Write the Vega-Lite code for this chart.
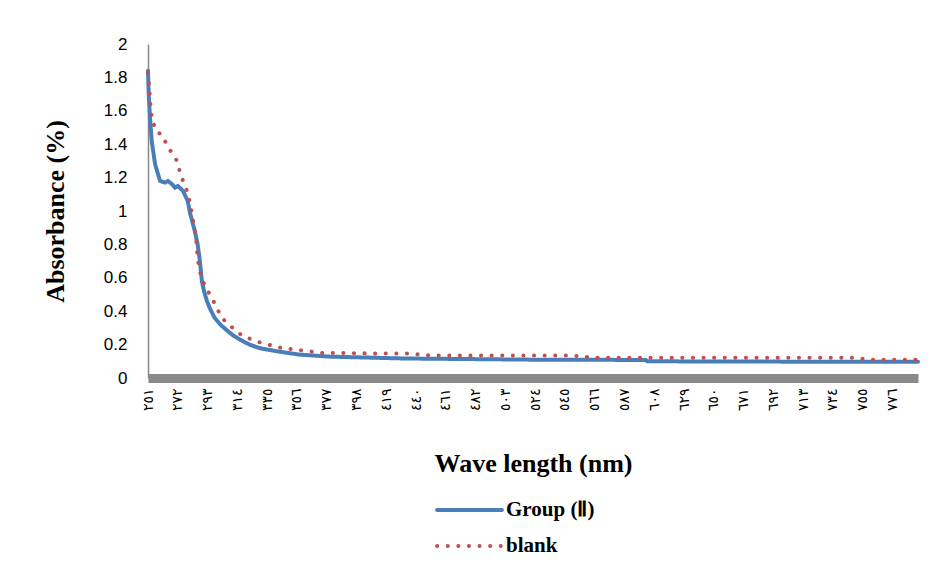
{
  "$schema": "https://vega.github.io/schema/vega-lite/v6.json",
  "width": 770,
  "height": 334,
  "autosize": {"type": "none"},
  "padding": {"left": 148, "top": 44, "right": 27, "bottom": 190},
  "background": "white",
  "config": {"view": {"stroke": null}},
  "data": {"values": [
    {"nm": 251, "a": 1.84, "s": "Group (Ⅱ)"},
    {"nm": 251.5, "a": 1.70, "s": "Group (Ⅱ)"},
    {"nm": 252.4, "a": 1.56, "s": "Group (Ⅱ)"},
    {"nm": 253.6, "a": 1.42, "s": "Group (Ⅱ)"},
    {"nm": 256, "a": 1.28, "s": "Group (Ⅱ)"},
    {"nm": 259.5, "a": 1.18, "s": "Group (Ⅱ)"},
    {"nm": 263, "a": 1.17, "s": "Group (Ⅱ)"},
    {"nm": 265, "a": 1.18, "s": "Group (Ⅱ)"},
    {"nm": 268, "a": 1.16, "s": "Group (Ⅱ)"},
    {"nm": 270, "a": 1.14, "s": "Group (Ⅱ)"},
    {"nm": 272, "a": 1.15, "s": "Group (Ⅱ)"},
    {"nm": 275.7, "a": 1.12, "s": "Group (Ⅱ)"},
    {"nm": 279, "a": 1.06, "s": "Group (Ⅱ)"},
    {"nm": 280.6, "a": 0.99, "s": "Group (Ⅱ)"},
    {"nm": 284, "a": 0.88, "s": "Group (Ⅱ)"},
    {"nm": 286, "a": 0.80, "s": "Group (Ⅱ)"},
    {"nm": 287.6, "a": 0.70, "s": "Group (Ⅱ)"},
    {"nm": 289, "a": 0.58, "s": "Group (Ⅱ)"},
    {"nm": 290.5, "a": 0.52, "s": "Group (Ⅱ)"},
    {"nm": 292.6, "a": 0.46, "s": "Group (Ⅱ)"},
    {"nm": 295, "a": 0.41, "s": "Group (Ⅱ)"},
    {"nm": 298, "a": 0.36, "s": "Group (Ⅱ)"},
    {"nm": 302, "a": 0.32, "s": "Group (Ⅱ)"},
    {"nm": 306.7, "a": 0.285, "s": "Group (Ⅱ)"},
    {"nm": 311, "a": 0.255, "s": "Group (Ⅱ)"},
    {"nm": 315.8, "a": 0.23, "s": "Group (Ⅱ)"},
    {"nm": 323, "a": 0.198, "s": "Group (Ⅱ)"},
    {"nm": 330, "a": 0.178, "s": "Group (Ⅱ)"},
    {"nm": 344, "a": 0.157, "s": "Group (Ⅱ)"},
    {"nm": 358, "a": 0.14, "s": "Group (Ⅱ)"},
    {"nm": 379, "a": 0.128, "s": "Group (Ⅱ)"},
    {"nm": 431, "a": 0.117, "s": "Group (Ⅱ)"},
    {"nm": 520, "a": 0.11, "s": "Group (Ⅱ)"},
    {"nm": 602, "a": 0.108, "s": "Group (Ⅱ)"},
    {"nm": 603, "a": 0.10, "s": "Group (Ⅱ)"},
    {"nm": 700, "a": 0.098, "s": "Group (Ⅱ)"},
    {"nm": 794, "a": 0.097, "s": "Group (Ⅱ)"},
    {"nm": 251, "a": 1.83, "s": "blank"},
    {"nm": 251.7, "a": 1.76, "s": "blank"},
    {"nm": 252.4, "a": 1.68, "s": "blank"},
    {"nm": 253, "a": 1.61, "s": "blank"},
    {"nm": 253.8, "a": 1.55, "s": "blank"},
    {"nm": 256.6, "a": 1.48, "s": "blank"},
    {"nm": 261.6, "a": 1.45, "s": "blank"},
    {"nm": 264.4, "a": 1.39, "s": "blank"},
    {"nm": 268.6, "a": 1.34, "s": "blank"},
    {"nm": 271.4, "a": 1.30, "s": "blank"},
    {"nm": 273.6, "a": 1.23, "s": "blank"},
    {"nm": 275.7, "a": 1.18, "s": "blank"},
    {"nm": 278.5, "a": 1.12, "s": "blank"},
    {"nm": 280.6, "a": 1.05, "s": "blank"},
    {"nm": 283.4, "a": 0.91, "s": "blank"},
    {"nm": 284.8, "a": 0.85, "s": "blank"},
    {"nm": 285.8, "a": 0.74, "s": "blank"},
    {"nm": 287, "a": 0.66, "s": "blank"},
    {"nm": 289, "a": 0.59, "s": "blank"},
    {"nm": 292.6, "a": 0.53, "s": "blank"},
    {"nm": 296, "a": 0.48, "s": "blank"},
    {"nm": 303, "a": 0.36, "s": "blank"},
    {"nm": 312, "a": 0.29, "s": "blank"},
    {"nm": 318, "a": 0.25, "s": "blank"},
    {"nm": 331, "a": 0.21, "s": "blank"},
    {"nm": 345, "a": 0.18, "s": "blank"},
    {"nm": 359.5, "a": 0.165, "s": "blank"},
    {"nm": 374, "a": 0.15, "s": "blank"},
    {"nm": 390, "a": 0.15, "s": "blank"},
    {"nm": 412, "a": 0.146, "s": "blank"},
    {"nm": 435.6, "a": 0.146, "s": "blank"},
    {"nm": 450, "a": 0.135, "s": "blank"},
    {"nm": 520, "a": 0.135, "s": "blank"},
    {"nm": 550, "a": 0.135, "s": "blank"},
    {"nm": 564, "a": 0.122, "s": "blank"},
    {"nm": 748, "a": 0.122, "s": "blank"},
    {"nm": 760, "a": 0.11, "s": "blank"},
    {"nm": 794, "a": 0.11, "s": "blank"}
  ]},
  "mark": {"type": "line", "strokeWidth": 4, "strokeCap": "round", "clip": false},
  "encoding": {
    "x": {
      "field": "nm", "type": "quantitative",
      "scale": {"domain": [251, 794], "nice": false, "zero": false},
      "axis": {
        "values": [251,272,293,314,335,356,377,398,419,440,461,482,503,524,545,566,587,608,629,650,671,692,713,734,755,776],
        "format": "d",
        "labelExpr": "replace(replace(replace(replace(replace(replace(replace(replace(replace(replace(datum.label,/0/g,'٠'),/1/g,'١'),/2/g,'٢'),/3/g,'٣'),/4/g,'٤'),/5/g,'٥'),/6/g,'٦'),/7/g,'٧'),/8/g,'٨'),/9/g,'٩')",
        "labelAngle": 270,
        "labelAlign": "right",
        "labelBaseline": "middle",
        "labelFont": "DejaVu Sans",
        "labelFontSize": 14,
        "labelColor": "#000000",
        "labelPadding": 10,
        "labelOverlap": false,
        "labelFlush": false,
        "ticks": false,
        "grid": false,
        "domainColor": "#898989",
        "domainWidth": 9,
        "domainCap": "butt",
        "title": "Wave length (nm)",
        "titleFont": "Liberation Serif",
        "titleFontSize": 26,
        "titleFontWeight": "bold",
        "titleColor": "#000000",
        "titleBaseline": "middle",
        "titleY": 85
      }
    },
    "y": {
      "field": "a", "type": "quantitative",
      "scale": {"domain": [0, 2], "nice": false},
      "axis": {
        "values": [0,0.2,0.4,0.6,0.8,1,1.2,1.4,1.6,1.8,2],
        "format": "~g",
        "labelFont": "Liberation Sans",
        "labelFontSize": 17,
        "labelColor": "#000000",
        "labelPadding": 21,
        "ticks": false,
        "grid": false,
        "domainColor": "#888888",
        "domainWidth": 1.5,
        "title": "Absorbance  (%)",
        "titleFont": "Liberation Serif",
        "titleFontSize": 26,
        "titleFontWeight": "bold",
        "titleColor": "#000000",
        "titleX": -93,
        "titleY": 167,
        "titleBaseline": "middle",
        "titleAlign": "center"
      }
    },
    "color": {
      "field": "s", "type": "nominal",
      "scale": {"domain": ["Group (Ⅱ)", "blank"], "range": ["#4a7ebb", "#c0504d"]},
      "legend": {
        "title": null,
        "orient": "none",
        "legendX": 287,
        "legendY": 456,
        "direction": "vertical",
        "symbolType": "stroke",
        "symbolSize": 4200,
        "symbolStrokeWidth": 4,
        "clipHeight": 20,
        "rowPadding": 15,
        "labelOffset": 2,
        "labelFont": "Liberation Serif",
        "labelFontSize": 21,
        "labelFontWeight": "bold",
        "labelColor": "#000000",
        "labelLimit": 300,
        "encode": {"symbols": {"update": {"strokeCap": {"value": "round"}}}}
      }
    },
    "strokeDash": {
      "field": "s", "type": "nominal",
      "scale": {"domain": ["Group (Ⅱ)", "blank"], "range": [[1, 0], [0.1, 10.5]]},
      "legend": {"title": null}
    }
  }
}
